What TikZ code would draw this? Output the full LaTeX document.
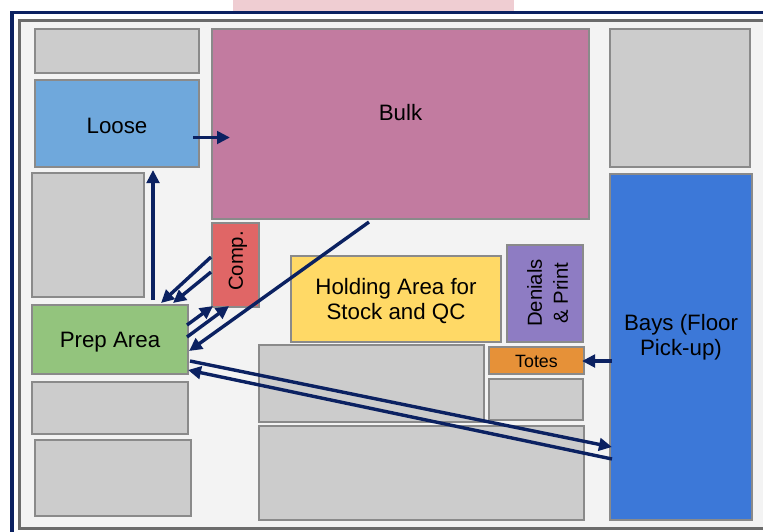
\documentclass[tikz,border=0pt]{standalone}
\usepackage{fontspec}
\setmainfont{Liberation Sans}
\usetikzlibrary{arrows.meta}

\definecolor{navy}{HTML}{0B2161}
\definecolor{edge}{HTML}{8A8A8A}
\definecolor{floor}{HTML}{F3F3F3}
\definecolor{rack}{HTML}{CCCCCC}
\definecolor{loosec}{HTML}{6FA8DC}
\definecolor{bulkc}{HTML}{C27BA0}
\definecolor{compc}{HTML}{E06666}
\definecolor{holdc}{HTML}{FFD966}
\definecolor{denc}{HTML}{8E7CC3}
\definecolor{totec}{HTML}{E69138}
\definecolor{prepc}{HTML}{93C47D}
\definecolor{bayc}{HTML}{3C78D8}
\definecolor{strip}{HTML}{EFCDD2}

\tikzset{
  zone/.style={draw=edge, line width=1.3pt, inner sep=0pt, outer sep=0pt,
    rectangle},
  bigtext/.style={font=\fontsize{22.3}{25}\selectfont, align=center, text=black},
  midtext/.style={font=\fontsize{20.3}{26}\selectfont, align=center, text=black},
  smalltext/.style={font=\fontsize{17.8}{20}\selectfont, text=black},
  flow/.style={draw=navy, line width=3.4pt,
    -{Triangle[length=13pt,width=12.5pt]}},
}

\begin{document}
\begin{tikzpicture}[x=1pt, y=-1pt]
\useasboundingbox (0,0) rectangle (763,531);
\clip (0,0) rectangle (763,531);

% page background and frame
\fill[white] (0,0) rectangle (763,531);
\fill[strip] (233,0) rectangle (514,11);
\draw[navy, line width=3.8pt, fill=white] (12,12.5) rectangle (800,560);
\draw[black!58, line width=2.5pt, fill=floor] (19.5,20.5) rectangle (790,528.5);

% storage zones
\node[zone, fill=rack, minimum width=164pt, minimum height=44pt] (g1) at (117,51) {};
\node[zone, fill=loosec, minimum width=164pt, minimum height=87pt] (loose) at (117,123.5) {};
\node[bigtext] (looselbl) at (117,125.5) {Loose};
\node[zone, fill=bulkc, minimum width=377pt, minimum height=190pt] (bulk) at (400.5,124) {};
\node[bigtext] (bulklbl) at (400.5,113) {Bulk};
\node[zone, fill=rack, minimum width=140pt, minimum height=138pt] (g2) at (680,98) {};
\node[zone, fill=bayc, minimum width=142pt, minimum height=346pt] (bays) at (681,347) {};
\node[bigtext] (bayslbl) at (681,337.5) {Bays (Floor\\Pick-up)};
\node[zone, fill=rack, minimum width=112pt, minimum height=124pt] (g3) at (88,235) {};
\node[zone, fill=prepc, minimum width=156pt, minimum height=69pt] (prep) at (110,339.5) {};
\node[bigtext] (preplbl) at (110,342) {Prep Area};
\node[zone, fill=rack, minimum width=156pt, minimum height=52pt] (g4) at (110,408) {};
\node[zone, fill=rack, minimum width=156pt, minimum height=76pt] (g5) at (113,478) {};
\node[zone, fill=compc, minimum width=47pt, minimum height=84pt] (comp) at (235.5,265) {};
\node[midtext, rotate=90] (complbl) at (238,261) {Comp.};
\node[zone, fill=holdc, minimum width=210pt, minimum height=86pt] (hold) at (396,299) {};
\node[bigtext] (holdlbl) at (396,301.5) {Holding Area for\\Stock and QC};
\node[zone, fill=denc, minimum width=76pt, minimum height=97pt] (den) at (545,293.5) {};
\node[midtext, rotate=90] (denlbl) at (547.5,293) {Denials\\\& Print};
\node[zone, fill=totec, minimum width=95pt, minimum height=27pt] (totes) at (536.5,360.5) {};
\node[smalltext] (toteslbl) at (536.5,361.5) {Totes};
\node[zone, fill=rack, minimum width=94pt, minimum height=41pt] (g6) at (536,399.5) {};
\node[zone, fill=rack, minimum width=225pt, minimum height=77pt] (g7) at (371.5,383.5) {};
\node[zone, fill=rack, minimum width=325pt, minimum height=94pt] (g8) at (421.5,473) {};

% connector end points
\coordinate (looseout) at (193,137.5);
\coordinate (bulkin)   at (230,137.5);
\coordinate (prepup)   at (153,300);
\coordinate (loosein)  at (153,170);
\coordinate (compoutA) at (211,257);
\coordinate (compoutB) at (211,272);
\coordinate (prepinA)  at (161,303);
\coordinate (prepinB)  at (173,303);
\coordinate (prepoutA) at (187,325);
\coordinate (prepoutB) at (187,337);
\coordinate (compinA)  at (213,306);
\coordinate (compinB)  at (229,306);
\coordinate (bulkout)  at (369,222);
\coordinate (prepinC)  at (189,351);
\coordinate (prepoutC) at (190,361);
\coordinate (baysinA)  at (612,447);
\coordinate (baysoutA) at (612,459);
\coordinate (prepinD)  at (188,370);
\coordinate (baysoutB) at (612,361);
\coordinate (totesin)  at (582,361);

% material flows
\draw[flow] (looseout) -- (bulkin);
\draw[flow] (prepup) -- (loosein);
\draw[flow] (compoutA) -- (prepinA);
\draw[flow] (compoutB) -- (prepinB);
\draw[flow] (prepoutA) -- (compinA);
\draw[flow] (prepoutB) -- (compinB);
\draw[flow] (bulkout) -- (prepinC);
\draw[flow] (prepoutC) -- (baysinA);
\draw[flow] (baysoutA) -- (prepinD);
\draw[flow] (baysoutB) -- (totesin);
\end{tikzpicture}
\end{document}
